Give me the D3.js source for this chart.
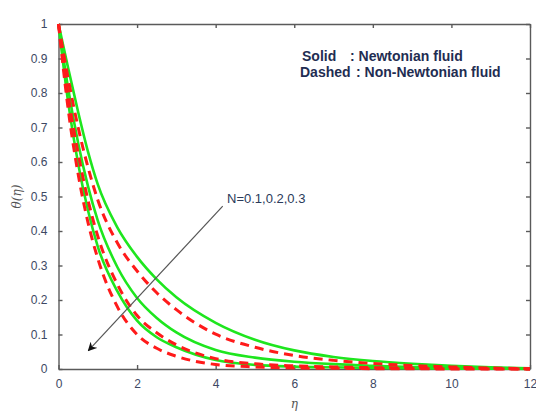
<!DOCTYPE html>
<html>
<head>
<meta charset="utf-8">
<script src="https://cdn.jsdelivr.net/npm/d3@7"></script>
<style>
  body { margin: 0; background: #fff; }
  .axis text { font-family: "Liberation Sans", Arial, sans-serif; font-size: 12px; fill: #3d4863; }
  .axis path, .axis line { stroke: #5a5a5a; stroke-width: 1.4; }
</style>
</head>
<body>
<div class="chart"></div>
<script>
// === Data ===
const etaValues = [0, 0.25, 0.5, 0.75, 1, 1.5, 2, 2.5, 3, 4, 5, 6, 7, 8, 9, 10, 11, 12];

// Solid: Newtonian fluid, N = 0.1, 0.2, 0.3
const newtonianN1 = [1, 0.87, 0.745, 0.63, 0.535, 0.41, 0.325, 0.26, 0.208, 0.134, 0.085, 0.054, 0.035, 0.023, 0.015, 0.009, 0.005, 0.002];
const newtonianN2 = [1, 0.81, 0.655, 0.53, 0.43, 0.295, 0.206, 0.148, 0.106, 0.055, 0.033, 0.021, 0.014, 0.0096, 0.006, 0.004, 0.002, 0.001];
const newtonianN3 = [1, 0.77, 0.595, 0.46, 0.355, 0.225, 0.14, 0.092, 0.063, 0.026, 0.012, 0.007, 0.005, 0.003, 0.002, 0.001, 0.001, 0];

// Dashed: Non-Newtonian fluid, N = 0.1, 0.2, 0.3
const nonNewtonianN1 = [1, 0.84, 0.70, 0.585, 0.49, 0.365, 0.284, 0.221, 0.172, 0.101, 0.063, 0.039, 0.025, 0.016, 0.010, 0.006, 0.003, 0.001];
const nonNewtonianN2 = [1, 0.79, 0.625, 0.49, 0.385, 0.245, 0.155, 0.105, 0.07, 0.03, 0.015, 0.009, 0.006, 0.004, 0.003, 0.002, 0.001, 0];
const nonNewtonianN3 = [1, 0.75, 0.565, 0.425, 0.32, 0.18, 0.10, 0.06, 0.037, 0.013, 0.006, 0.003, 0.002, 0.001, 0.001, 0, 0, 0];

const xTicks = [0, 2, 4, 6, 8, 10, 12];
const yTicks = [0, 0.1, 0.2, 0.3, 0.4, 0.5, 0.6, 0.7, 0.8, 0.9, 1];

// === Margin Convention ===
const margin = {top: 24, right: 6, bottom: 43, left: 58.5};
const width = 536 - margin.left - margin.right,
      height = 412 - margin.top - margin.bottom;

const svg = d3.select(".chart").append("svg")
    .attr("width", 536)
    .attr("height", 412)
  .append("g")
    .attr("transform", `translate(${margin.left},${margin.top})`);

// === Scales ===
const xScale = d3.scaleLinear().domain([0, 12]).range([0, width]);
const yScale = d3.scaleLinear().domain([0, 1]).range([height, 0]);

// === Axes (ticks pointing inward, box on) ===
svg.append("g")
    .attr("class", "axis x-axis")
    .attr("transform", `translate(0,${height})`)
    .call(d3.axisBottom(xScale).tickValues(xTicks).tickFormat(d3.format("d"))
          .tickSizeInner(-4).tickSizeOuter(0).tickPadding(10));

svg.append("g")
    .attr("class", "axis y-axis")
    .call(d3.axisLeft(yScale).tickValues(yTicks).tickFormat(d => d === 0 || d === 1 ? d : d3.format(".1f")(d))
          .tickSizeInner(-4).tickSizeOuter(0).tickPadding(11));

svg.append("g")
    .attr("class", "axis")
    .call(d3.axisTop(xScale).tickValues(xTicks).tickFormat("")
          .tickSizeInner(-4).tickSizeOuter(0));

svg.append("g")
    .attr("class", "axis")
    .attr("transform", `translate(${width},0)`)
    .call(d3.axisRight(yScale).tickValues(yTicks).tickFormat("")
          .tickSizeInner(-4).tickSizeOuter(0));

// === Axis titles ===
svg.append("text")
    .attr("x", width / 2)
    .attr("y", height + 39)
    .attr("text-anchor", "middle")
    .style("font-family", "DejaVu Serif, serif")
    .style("font-style", "italic")
    .style("font-size", "12px")
    .style("fill", "#555")
    .text("η");

svg.append("text")
    .attr("transform", `translate(${-38},${yScale(0.5)}) rotate(-90)`)
    .attr("text-anchor", "middle")
    .style("font-family", "DejaVu Serif, serif")
    .style("font-style", "italic")
    .style("font-size", "12px")
    .style("fill", "#555")
    .text("θ(η)");

// === Lines ===
const line = d3.line()
    .x(d => xScale(d[0]))
    .y(d => yScale(d[1]))
    .curve(d3.curveMonotoneX);

const solidSeries = [newtonianN1, newtonianN2, newtonianN3];
const dashedSeries = [nonNewtonianN1, nonNewtonianN2, nonNewtonianN3];

svg.selectAll(".solid")
    .data(solidSeries)
    .enter().append("path")
    .attr("class", "solid")
    .attr("fill", "none")
    .attr("stroke", "#1ee61e")
    .attr("stroke-width", 2.6)
    .attr("d", s => line(etaValues.map((e, i) => [e, s[i]])));

svg.selectAll(".dashed")
    .data(dashedSeries)
    .enter().append("path")
    .attr("class", "dashed")
    .attr("fill", "none")
    .attr("stroke", "#ff1a1a")
    .attr("stroke-width", 3)
    .attr("stroke-dasharray", "9,6")
    .attr("d", s => line(etaValues.map((e, i) => [e, s[i]])));

// === Legend text ===
const legend = svg.append("g")
    .style("font-family", "Liberation Sans, Arial, sans-serif")
    .style("font-weight", "bold")
    .style("font-size", "14px")
    .style("fill", "#1f2d52");

legend.append("text").attr("x", 302 - margin.left).attr("y", 61 - margin.top).text("Solid");
legend.append("text").attr("x", 350 - margin.left).attr("y", 61 - margin.top).text(": Newtonian fluid");
legend.append("text").attr("x", 300 - margin.left).attr("y", 77 - margin.top).text("Dashed");
legend.append("text").attr("x", 356 - margin.left).attr("y", 77 - margin.top).text(": Non-Newtonian fluid");

// === Annotation arrow ===
svg.append("defs").append("marker")
    .attr("id", "arrowhead")
    .attr("viewBox", "0 0 10 10")
    .attr("refX", 9).attr("refY", 5)
    .attr("markerWidth", 9).attr("markerHeight", 9)
    .attr("markerUnits", "userSpaceOnUse")
    .attr("orient", "auto")
  .append("path")
    .attr("d", "M0,0 L10,5 L0,10 L3,5 Z")
    .attr("fill", "#111");

svg.append("line")
    .attr("x1", xScale(4.18)).attr("y1", yScale(0.472))
    .attr("x2", xScale(0.76)).attr("y2", yScale(0.053))
    .attr("stroke", "#555")
    .attr("stroke-width", 1.2)
    .attr("marker-end", "url(#arrowhead)");

svg.append("text")
    .attr("x", 227 - margin.left)
    .attr("y", 203 - margin.top)
    .style("font-family", "Liberation Sans, Arial, sans-serif")
    .style("font-size", "13px")
    .style("fill", "#2a3a5a")
    .text("N=0.1,0.2,0.3");
</script>
</body>
</html>
